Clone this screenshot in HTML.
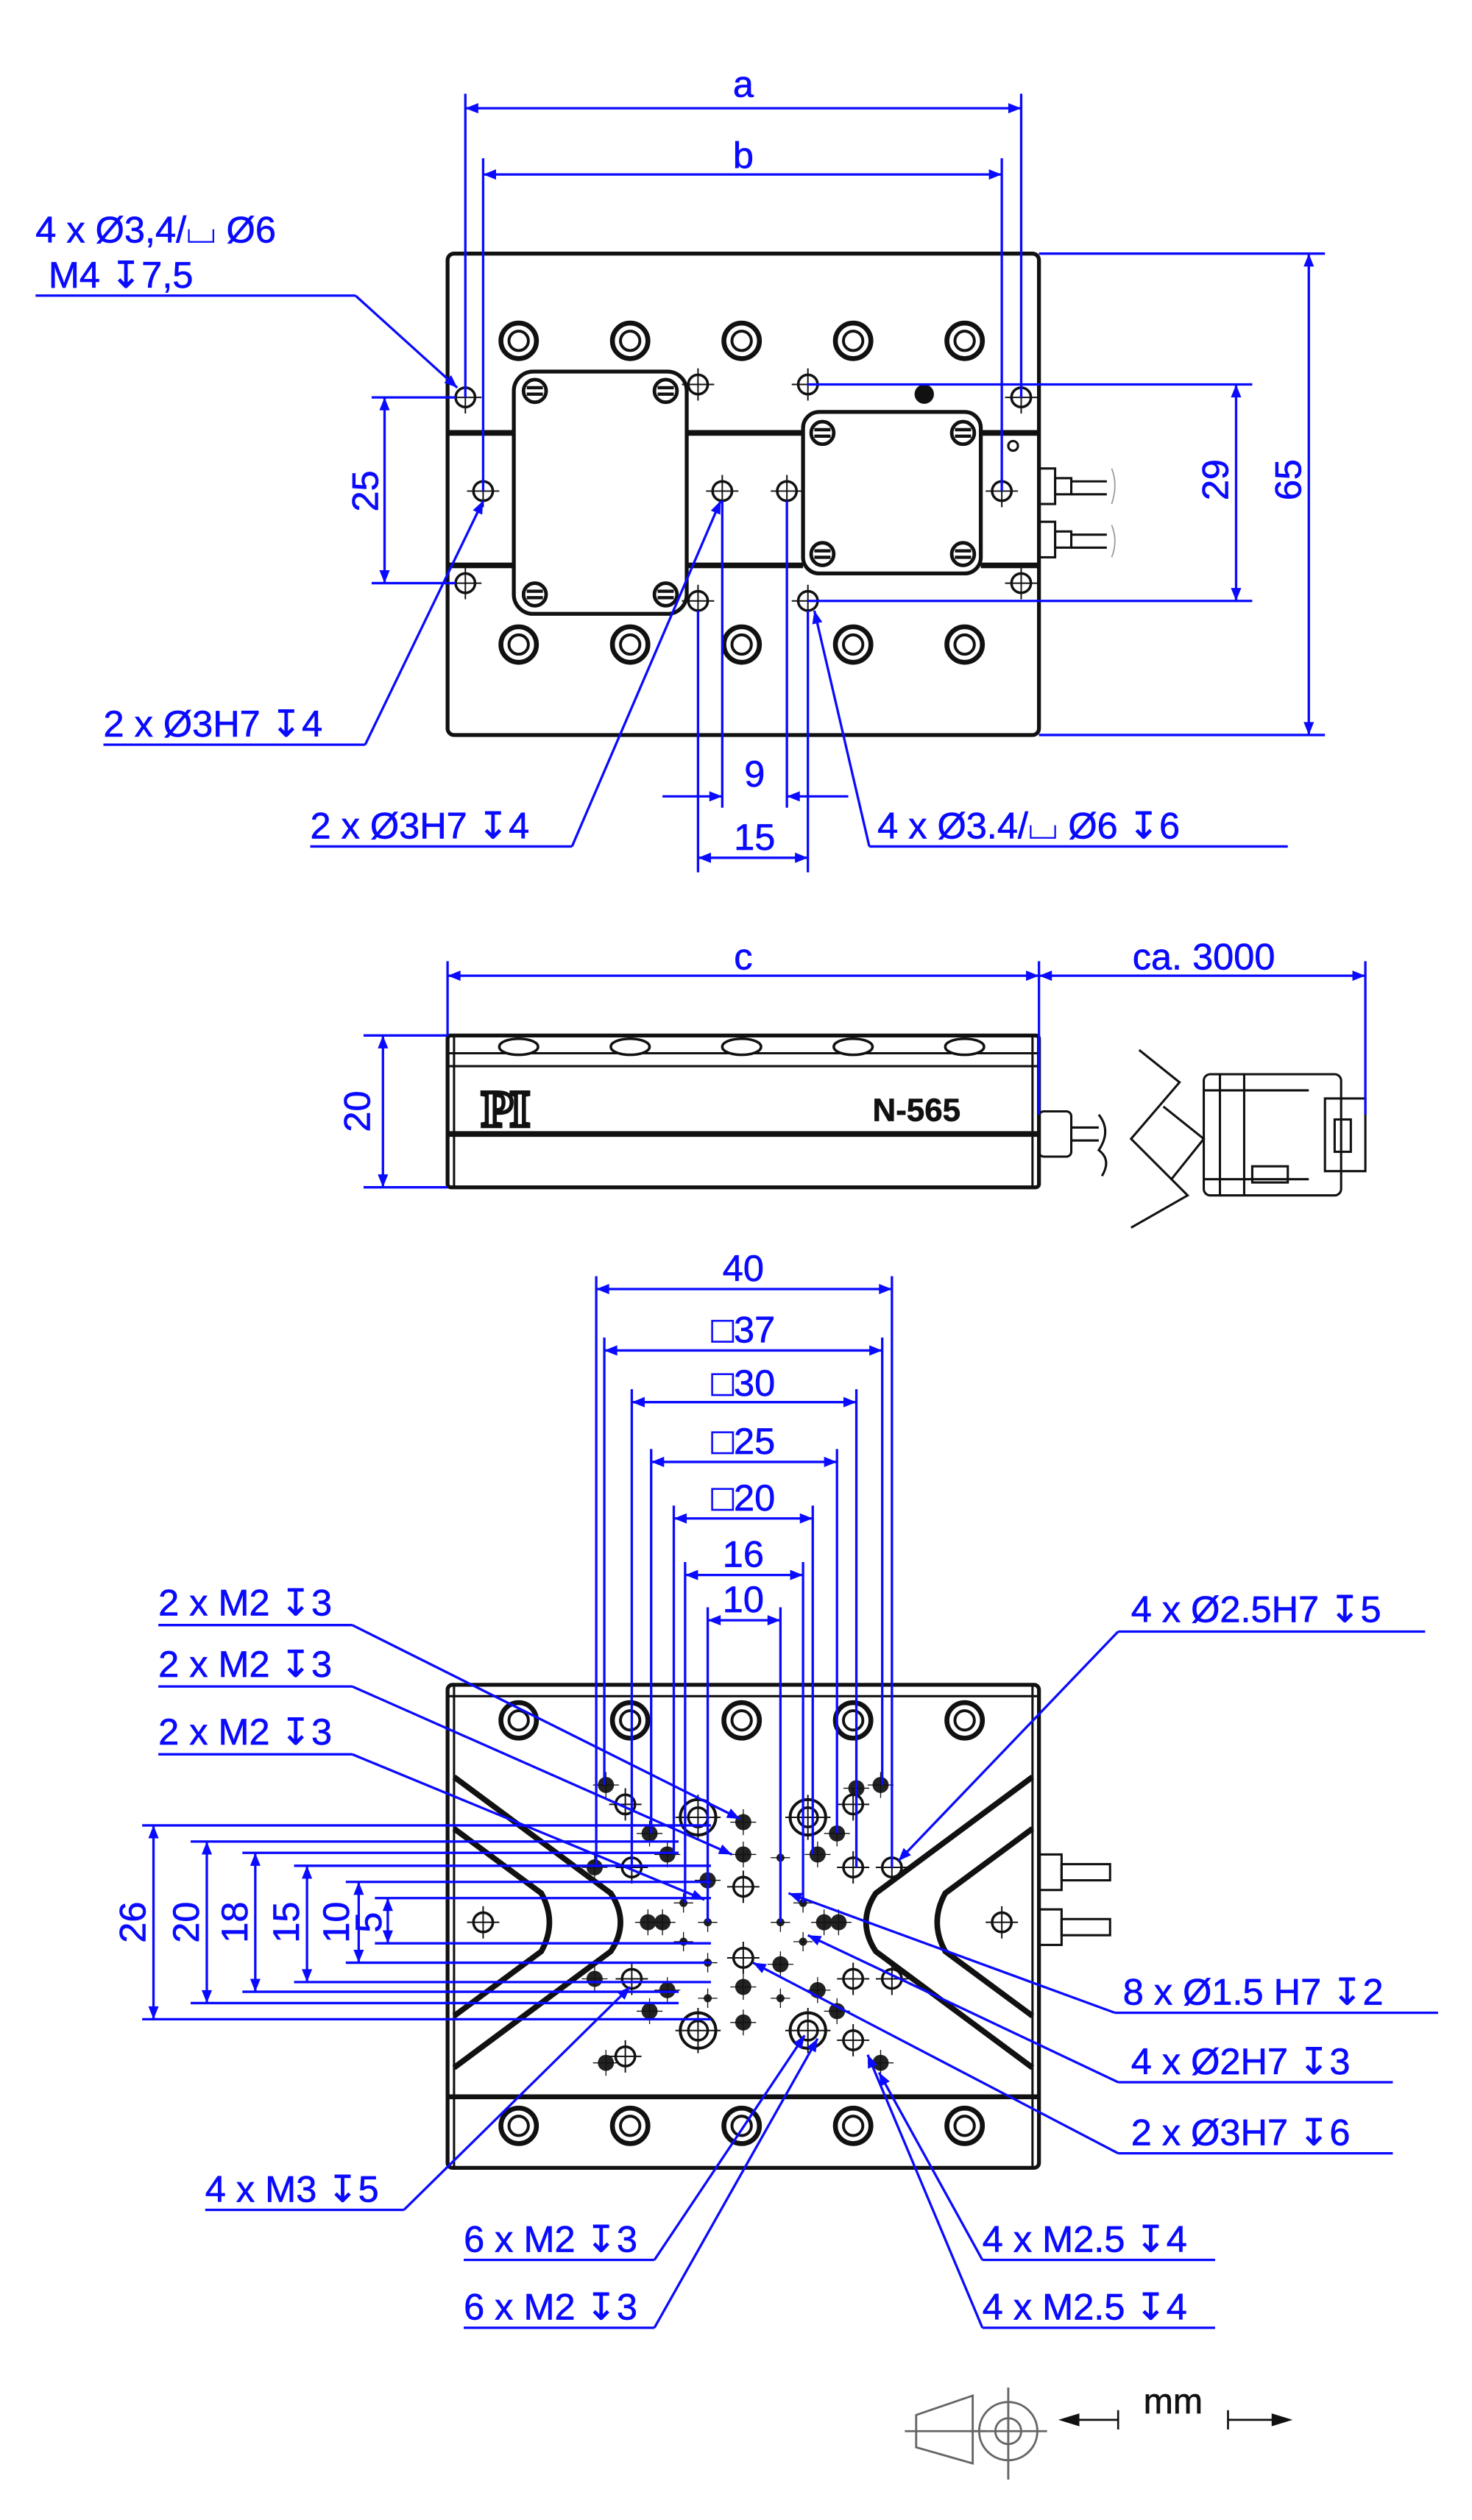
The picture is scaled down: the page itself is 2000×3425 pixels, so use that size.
<!DOCTYPE html>
<html><head><meta charset="utf-8"><style>
html,body{margin:0;padding:0;background:#fff}
svg{display:block}
text{font-family:"Liberation Sans","DejaVu Sans",sans-serif;fill:#0a0aff;stroke:#0a0aff;stroke-width:0.3}
.b{stroke:#0a0aff;stroke-width:1.5;fill:none}
.k{stroke:#111;stroke-width:2.4;fill:none}
.kt{stroke:#111;stroke-width:1.4;fill:none}
.kk{stroke:#111;stroke-width:3.5;fill:none}
</style></head><body>
<svg width="2000" height="3425" viewBox="0 0 911 1560" preserveAspectRatio="none" xmlns="http://www.w3.org/2000/svg">
<defs>
<marker id="a" viewBox="0 0 10 10" refX="10" refY="5" markerWidth="14" markerHeight="8" markerUnits="userSpaceOnUse" orient="auto-start-reverse"><path d="M0,1 L10,5 L0,9 z" fill="#0a0aff"/></marker>
<g id="sc"><circle r="11" fill="#fff" stroke="#111" stroke-width="3"/><circle r="6" fill="none" stroke="#111" stroke-width="1.8"/></g>
<g id="ch"><circle r="6" fill="#fff" stroke="#111" stroke-width="1.6"/><path d="M-10,0H10M0,-10V10" stroke="#111" stroke-width="0.9"/></g>
<g id="sl"><circle r="7" fill="#fff" stroke="#111" stroke-width="2.2"/><path d="M-5,-2H5M-5,2H5" stroke="#111" stroke-width="2"/></g>
<g id="bd"><circle r="5" fill="#222"/><path d="M-8,0H8M0,-8V8" stroke="#111" stroke-width="0.6"/></g>
<g id="cb"><circle r="11" fill="#fff" stroke="#111" stroke-width="1.8"/><circle r="6" fill="none" stroke="#111" stroke-width="1.6"/><path d="M-14,0H14M0,-14V14" stroke="#111" stroke-width="0.9"/></g>
<g id="tp"><circle r="2.5" fill="#222"/><path d="M-6,0H6M0,-6V6" stroke="#111" stroke-width="0.6"/></g>
</defs>

<!-- ============ TOP VIEW ============ -->
<rect x="277" y="157" width="366" height="298" rx="4" class="k"/>
<path d="M277,268H318M425,268H497M607,268H643M277,350H318M425,350H497M607,350H643" stroke="#111" stroke-width="3.5"/>
<rect x="318" y="230" width="107" height="150" rx="12" class="k" fill="#fff"/>
<rect x="497" y="255" width="110" height="100" rx="10" class="k" fill="#fff"/>
<use href="#sl" x="331" y="242"/><use href="#sl" x="412" y="242"/><use href="#sl" x="331" y="368"/><use href="#sl" x="412" y="368"/>
<use href="#sl" x="509" y="268"/><use href="#sl" x="596" y="268"/><use href="#sl" x="509" y="343"/><use href="#sl" x="596" y="343"/>
<g>
<use href="#sc" x="321" y="211"/><use href="#sc" x="390" y="211"/><use href="#sc" x="459" y="211"/><use href="#sc" x="528" y="211"/><use href="#sc" x="597" y="211"/>
<use href="#sc" x="321" y="399"/><use href="#sc" x="390" y="399"/><use href="#sc" x="459" y="399"/><use href="#sc" x="528" y="399"/><use href="#sc" x="597" y="399"/>
</g>
<use href="#ch" x="288" y="246"/><use href="#ch" x="288" y="361"/><use href="#ch" x="299" y="304"/>
<use href="#ch" x="432" y="238"/><use href="#ch" x="500" y="238"/><use href="#ch" x="432" y="372"/><use href="#ch" x="500" y="372"/>
<use href="#ch" x="447" y="304"/><use href="#ch" x="487" y="304"/><use href="#ch" x="620" y="304"/>
<use href="#ch" x="632" y="246"/><use href="#ch" x="632" y="361"/>
<circle cx="572" cy="244" r="6" fill="#111"/><circle cx="627" cy="276" r="3" class="kt"/>
<rect x="643" y="290" width="10" height="22" class="kt"/><rect x="653" y="296" width="10" height="10" class="kt"/><path d="M663,298H685M663,306H685" class="kt"/>
<rect x="643" y="323" width="10" height="22" class="kt"/><rect x="653" y="329" width="10" height="10" class="kt"/><path d="M663,331H685M663,339H685" class="kt"/>
<path d="M688,290Q692,300 688,312M688,325Q692,335 688,345" stroke="#999" stroke-width="0.8" fill="none"/>

<!-- top dims -->
<path class="b" d="M288,58V246M632,58V246M299,98V304M620,98V304"/>
<line class="b" x1="288" y1="67" x2="632" y2="67" marker-start="url(#a)" marker-end="url(#a)"/>
<line class="b" x1="299" y1="108" x2="620" y2="108" marker-start="url(#a)" marker-end="url(#a)"/>
<text x="460" y="60" font-size="23" text-anchor="middle">a</text>
<text x="460" y="104" font-size="23" text-anchor="middle">b</text>
<path class="b" d="M643,157H820M643,455H820M500,238H775M500,372H775M230,246H282M230,361H282"/>
<line class="b" x1="810" y1="157" x2="810" y2="455" marker-start="url(#a)" marker-end="url(#a)"/>
<line class="b" x1="765" y1="238" x2="765" y2="372" marker-start="url(#a)" marker-end="url(#a)"/>
<line class="b" x1="238" y1="246" x2="238" y2="361" marker-start="url(#a)" marker-end="url(#a)"/>
<text font-size="23" text-anchor="middle" transform="translate(805,297) rotate(-90)">65</text>
<text font-size="23" text-anchor="middle" transform="translate(760,297) rotate(-90)">29</text>
<text font-size="23" text-anchor="middle" transform="translate(234,304) rotate(-90)">25</text>
<path class="b" d="M447,310V500M487,310V500M432,378V540M500,378V540"/>
<line class="b" x1="410" y1="493" x2="447" y2="493" marker-end="url(#a)"/>
<line class="b" x1="525" y1="493" x2="487" y2="493" marker-end="url(#a)"/>
<line class="b" x1="432" y1="531" x2="500" y2="531" marker-start="url(#a)" marker-end="url(#a)"/>
<text x="467" y="487" font-size="23" text-anchor="middle">9</text>
<text x="467" y="526" font-size="23" text-anchor="middle">15</text>
<!-- top labels -->
<text x="22" y="150" font-size="23">4 x Ø3,4/⌴ Ø6</text>
<text x="30" y="178" font-size="23">M4 ↧7,5</text>
<path class="b" d="M22,183H220"/><line class="b" x1="220" y1="183" x2="283" y2="240" marker-end="url(#a)"/>
<text x="64" y="456" font-size="23">2 x Ø3H7 ↧4</text>
<path class="b" d="M64,461H226"/><line class="b" x1="226" y1="461" x2="299" y2="310" marker-end="url(#a)"/>
<text x="192" y="519" font-size="23">2 x Ø3H7 ↧4</text>
<path class="b" d="M192,524H354"/><line class="b" x1="354" y1="524" x2="446" y2="310" marker-end="url(#a)"/>
<text x="543" y="519" font-size="23">4 x Ø3.4/⌴ Ø6 ↧6</text>
<path class="b" d="M538,524H797"/><line class="b" x1="538" y1="524" x2="504" y2="378" marker-end="url(#a)"/>

<!-- ============ SIDE VIEW ============ -->
<rect x="277" y="641" width="366" height="94" rx="2" class="k"/>
<path d="M281,641V735M639,641V735" class="kt"/>
<path d="M277,652H643M277,660H643" class="kt"/>
<path d="M277,702H643" stroke="#111" stroke-width="3.5"/>
<g fill="#fff" stroke="#111" stroke-width="1.6">
<ellipse cx="321" cy="648" rx="12" ry="5"/><ellipse cx="390" cy="648" rx="12" ry="5"/><ellipse cx="459" cy="648" rx="12" ry="5"/><ellipse cx="528" cy="648" rx="12" ry="5"/><ellipse cx="597" cy="648" rx="12" ry="5"/>
</g>
<text x="298" y="697" font-size="32" font-weight="bold" style="font-family:'Liberation Serif',serif;fill:#fff;stroke:#111;stroke-width:2.5;letter-spacing:-2px">PI</text>
<text x="540" y="694" font-size="20" font-weight="bold" style="fill:#111;stroke:#111">N-565</text>
<rect x="643" y="688" width="20" height="28" rx="3" class="kt"/><path d="M663,698H680M663,706H680" class="kt"/>
<path d="M680,690Q688,700 680,712Q688,718 682,728" class="kt"/>
<path d="M705,650L730,670L700,705L735,740L700,760" class="kt"/>
<path d="M720,685L745,705L725,730" class="kt"/>
<rect x="745" y="665" width="85" height="75" rx="4" class="kt"/>
<rect x="820" y="680" width="25" height="45" class="kt"/><rect x="826" y="693" width="10" height="20" class="kt"/>
<path d="M755,665V740M770,665V740M745,675H810M745,730H810" class="kt"/>
<rect x="775" y="722" width="22" height="10" class="kt"/>
<!-- side dims -->
<path class="b" d="M277,595V641M643,595V690M845,595V690M225,641H277M225,735H277"/>
<line class="b" x1="277" y1="604" x2="643" y2="604" marker-start="url(#a)" marker-end="url(#a)"/>
<line class="b" x1="643" y1="604" x2="845" y2="604" marker-start="url(#a)" marker-end="url(#a)"/>
<line class="b" x1="237" y1="641" x2="237" y2="735" marker-start="url(#a)" marker-end="url(#a)"/>
<text x="460" y="600" font-size="23" text-anchor="middle">c</text>
<text x="745" y="600" font-size="23" text-anchor="middle">ca. 3000</text>
<text font-size="23" text-anchor="middle" transform="translate(229,688) rotate(-90)">20</text>

<!-- ============ BOTTOM VIEW ============ -->
<rect x="277" y="1043" width="366" height="299" rx="3" class="k"/>
<path d="M281,1043V1342M639,1043V1342M277,1050H643" class="kt"/>
<path d="M277,1298H643" stroke="#111" stroke-width="3"/>
<g>
<use href="#sc" x="321" y="1065"/><use href="#sc" x="390" y="1065"/><use href="#sc" x="459" y="1065"/><use href="#sc" x="528" y="1065"/><use href="#sc" x="597" y="1065"/>
<use href="#sc" x="321" y="1316"/><use href="#sc" x="390" y="1316"/><use href="#sc" x="459" y="1316"/><use href="#sc" x="528" y="1316"/><use href="#sc" x="597" y="1316"/>
</g>
<path class="kk" d="M281,1100L378,1172Q390,1190 378,1208L281,1280"/>
<path class="kk" d="M281,1132L335,1172Q345,1190 335,1208L281,1248"/>
<path class="kk" d="M639,1100L542,1172Q530,1190 542,1208L639,1280"/>
<path class="kk" d="M639,1132L585,1172Q575,1190 585,1208L639,1248"/>
<use href="#ch" x="299" y="1190"/><use href="#ch" x="620" y="1190"/>
<rect x="643" y="1148" width="14" height="22" class="kt"/><rect x="657" y="1154" width="30" height="10" class="kt"/>
<rect x="643" y="1182" width="14" height="22" class="kt"/><rect x="657" y="1188" width="30" height="10" class="kt"/>
<use href="#cb" x="432" y="1125"/><use href="#cb" x="500" y="1125"/><use href="#cb" x="432" y="1257"/><use href="#cb" x="500" y="1257"/>
<g>
<use href="#bd" x="375" y="1105"/><use href="#bd" x="545" y="1105"/><use href="#bd" x="375" y="1277"/><use href="#bd" x="545" y="1277"/>
<use href="#bd" x="402" y="1135"/><use href="#bd" x="518" y="1135"/><use href="#bd" x="402" y="1245"/><use href="#bd" x="518" y="1245"/>
<use href="#bd" x="460" y="1128"/><use href="#bd" x="460" y="1148"/><use href="#bd" x="413" y="1148"/><use href="#bd" x="506" y="1148"/>
<use href="#bd" x="413" y="1232"/><use href="#bd" x="506" y="1232"/><use href="#bd" x="460" y="1252"/><use href="#bd" x="460" y="1230"/>
<use href="#bd" x="438" y="1164"/><use href="#bd" x="483" y="1216"/><use href="#bd" x="368" y="1156"/><use href="#bd" x="368" y="1225"/>
<use href="#bd" x="401" y="1190"/><use href="#bd" x="410" y="1190"/><use href="#bd" x="510" y="1190"/><use href="#bd" x="519" y="1190"/>
<use href="#bd" x="530" y="1107"/>
</g>
<use href="#ch" x="391" y="1156"/><use href="#ch" x="528" y="1156"/><use href="#ch" x="391" y="1225"/><use href="#ch" x="528" y="1225"/>
<use href="#ch" x="460" y="1168"/><use href="#ch" x="460" y="1212"/><use href="#ch" x="552" y="1156"/><use href="#ch" x="552" y="1225"/>
<use href="#ch" x="387" y="1273"/><use href="#ch" x="528" y="1117"/><use href="#ch" x="387" y="1117"/><use href="#ch" x="528" y="1263"/>
<use href="#tp" x="483" y="1150"/><use href="#tp" x="423" y="1178"/><use href="#tp" x="497" y="1178"/><use href="#tp" x="438" y="1190"/><use href="#tp" x="483" y="1190"/>
<use href="#tp" x="423" y="1202"/><use href="#tp" x="497" y="1202"/><use href="#tp" x="438" y="1215"/><use href="#tp" x="438" y="1237"/><use href="#tp" x="483" y="1237"/>

<path class="b" d="M369,790V1156M552,790V1156M374,828V1105M546,828V1105M391,860V1156M530,860V1156M403,897V1135M518,897V1135M417,932V1148M503,932V1148M424,967V1178M497,967V1178M438,995V1190M483,995V1190"/>
<line class="b" x1="369" y1="798" x2="552" y2="798" marker-start="url(#a)" marker-end="url(#a)"/>
<line class="b" x1="374" y1="836" x2="546" y2="836" marker-start="url(#a)" marker-end="url(#a)"/>
<line class="b" x1="391" y1="868" x2="530" y2="868" marker-start="url(#a)" marker-end="url(#a)"/>
<line class="b" x1="403" y1="905" x2="518" y2="905" marker-start="url(#a)" marker-end="url(#a)"/>
<line class="b" x1="417" y1="940" x2="503" y2="940" marker-start="url(#a)" marker-end="url(#a)"/>
<line class="b" x1="424" y1="975" x2="497" y2="975" marker-start="url(#a)" marker-end="url(#a)"/>
<line class="b" x1="438" y1="1003" x2="483" y2="1003" marker-start="url(#a)" marker-end="url(#a)"/>
<g font-size="23" text-anchor="middle">
<text x="460" y="793">40</text><text x="460" y="831">□37</text><text x="460" y="864">□30</text><text x="460" y="900">□25</text><text x="460" y="935">□20</text><text x="460" y="970">16</text><text x="460" y="998">10</text>
</g>
<path class="b" d="M88,1130H440M118,1140H420M150,1147H420M182,1155H440M214,1165H440M232,1175H440M88,1250H440M118,1240H420M150,1233H420M182,1227H440M214,1215H440M232,1203H440"/>
<line class="b" x1="95" y1="1130" x2="95" y2="1250" marker-start="url(#a)" marker-end="url(#a)"/>
<line class="b" x1="128" y1="1140" x2="128" y2="1240" marker-start="url(#a)" marker-end="url(#a)"/>
<line class="b" x1="158" y1="1147" x2="158" y2="1233" marker-start="url(#a)" marker-end="url(#a)"/>
<line class="b" x1="190" y1="1155" x2="190" y2="1227" marker-start="url(#a)" marker-end="url(#a)"/>
<line class="b" x1="222" y1="1165" x2="222" y2="1215" marker-start="url(#a)" marker-end="url(#a)"/>
<line class="b" x1="240" y1="1175" x2="240" y2="1203" marker-start="url(#a)" marker-end="url(#a)"/>
<g font-size="23" text-anchor="middle">
<text transform="translate(90,1190) rotate(-90)">26</text><text transform="translate(123,1190) rotate(-90)">20</text>
<text transform="translate(153,1190) rotate(-90)">18</text><text transform="translate(185,1190) rotate(-90)">15</text>
<text transform="translate(216,1190) rotate(-90)">10</text><text transform="translate(236,1190) rotate(-90)">5</text>
</g>
<g font-size="23">
<text x="98" y="1000">2 x M2 ↧3</text><text x="98" y="1038">2 x M2 ↧3</text><text x="98" y="1080">2 x M2 ↧3</text>
<text x="700" y="1004">4 x Ø2.5H7 ↧5</text><text x="695" y="1241">8 x Ø1.5  H7 ↧2</text>
<text x="700" y="1284">4 x Ø2H7 ↧3</text><text x="700" y="1328">2 x Ø3H7 ↧6</text>
<text x="127" y="1363">4 x M3 ↧5</text><text x="287" y="1394">6 x M2 ↧3</text><text x="287" y="1436">6 x M2 ↧3</text>
<text x="608" y="1394">4 x M2.5 ↧4</text><text x="608" y="1436">4 x M2.5 ↧4</text>
</g>
<path class="b" d="M98,1006H218M98,1044H218M98,1086H218M692,1010H882M690,1246H890M692,1289H862M692,1333H862M127,1368H250M287,1399H405M287,1441H405M608,1399H752M608,1441H752"/>
<line class="b" x1="218" y1="1006" x2="458" y2="1126" marker-end="url(#a)"/>
<line class="b" x1="218" y1="1044" x2="453" y2="1148" marker-end="url(#a)"/>
<line class="b" x1="218" y1="1086" x2="436" y2="1176" marker-end="url(#a)"/>
<line class="b" x1="692" y1="1010" x2="556" y2="1152" marker-end="url(#a)"/>
<line class="b" x1="690" y1="1246" x2="488" y2="1172" marker-end="url(#a)"/>
<line class="b" x1="692" y1="1289" x2="500" y2="1198" marker-end="url(#a)"/>
<line class="b" x1="692" y1="1333" x2="466" y2="1215" marker-end="url(#a)"/>
<line class="b" x1="250" y1="1368" x2="390" y2="1230" marker-end="url(#a)"/>
<line class="b" x1="405" y1="1399" x2="498" y2="1260" marker-end="url(#a)"/>
<line class="b" x1="405" y1="1441" x2="506" y2="1262" marker-end="url(#a)"/>
<line class="b" x1="608" y1="1399" x2="544" y2="1283" marker-end="url(#a)"/>
<line class="b" x1="608" y1="1441" x2="537" y2="1272" marker-end="url(#a)"/>

<g stroke="#666" stroke-width="1.3" fill="none">
<path d="M567,1495L602,1483V1525L567,1515Z"/><path d="M560,1505H610"/>
<circle cx="624" cy="1505" r="18"/><circle cx="624" cy="1505" r="8"/><path d="M600,1505H648M624,1478V1535"/>
</g>
<path d="M660,1498H692M692,1492V1504M760,1492V1504M760,1498H795" stroke="#111" stroke-width="1.2"/>
<path d="M655,1498L668,1494V1502Z M800,1498L787,1494V1502Z" fill="#111"/>
<text x="726" y="1494" font-size="22" text-anchor="middle" style="fill:#111;stroke:#111">mm</text>
</svg>
</body></html>
